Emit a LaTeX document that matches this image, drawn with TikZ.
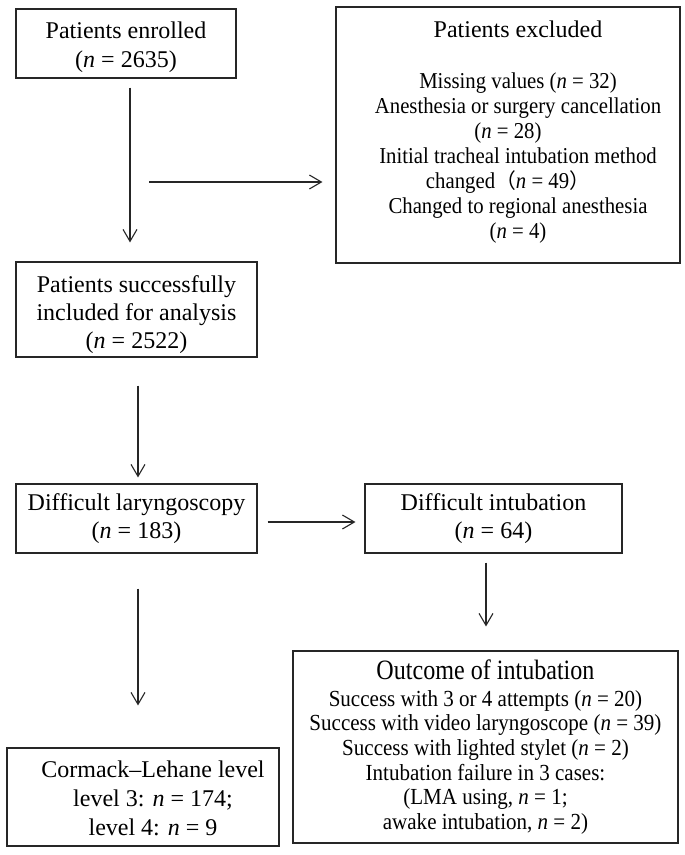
\documentclass[tikz,border=0pt]{standalone}
\usepackage{fontspec}
\setmainfont{Liberation Serif}
\newfontfamily\cjk{Noto Sans CJK SC}
\newfontfamily\tallA[FakeStretch=0.915]{Liberation Serif}
\newfontfamily\tallB[FakeStretch=0.86]{Liberation Serif}
\usetikzlibrary{arrows.meta}
\begin{document}
\begin{tikzpicture}[x=1pt,y=-1pt,
  box/.style={draw=black!85, line width=1.1pt, inner sep=0pt},
  txt/.style={inner sep=0pt, align=center},
  arr/.style={draw=black!85, line width=1.1pt, -{Straight Barb[length=12pt,width=14pt,line width=1.1pt]}},
]
\path[fill=white] (0,0) rectangle (685,855);
\useasboundingbox (0,0) rectangle (685,855);

% boxes
\node[box,minimum width=220pt,minimum height=69pt] (pe) at (126,43.5) {};
\node[box,minimum width=344pt,minimum height=256pt] (ex) at (508,135) {};
\node[box,minimum width=241pt,minimum height=95pt] (ps) at (136.5,309.5) {};
\node[box,minimum width=241pt,minimum height=69pt] (dl) at (136.5,518.5) {};
\node[box,minimum width=257pt,minimum height=69pt] (di) at (493.5,518.5) {};
\node[box,minimum width=272pt,minimum height=98pt] (cl) at (143,797) {};
\node[box,minimum width=385pt,minimum height=192pt] (oc) at (485.5,747) {};

% texts
\node[txt,font=\fontsize{24}{29}\selectfont] (pe-t) at (126,47.5)
  {Patients enrolled\\(\textit{n} = 2635)};

\node[txt,font=\tallA\fontsize{22.7}{25}\selectfont] (ex-t) at (508,132)
  {{\rmfamily\fontsize{24}{28}\selectfont\hspace*{20pt}Patients excluded}\\[26pt]
   \hspace*{20pt}Missing values (\textit{n} = 32)\\
   \hspace*{20pt}Anesthesia or surgery cancellation\\
   (\textit{n} = 28)\\
   \hspace*{20pt}Initial tracheal intubation method\\
   changed{\cjk\fontsize{20.8}{25}\selectfont （}\textit{n} = 49{\cjk\fontsize{20.8}{25}\selectfont ）}\\
   \hspace*{20pt}Changed to regional anesthesia\\
   \hspace*{20pt}(\textit{n} = 4)};

\node[txt,font=\fontsize{24}{28}\selectfont] (ps-t) at (136.5,314.5)
  {Patients successfully\\included for analysis\\(\textit{n} = 2522)};

\node[txt,font=\fontsize{24}{28.5}\selectfont] (dl-t) at (136.5,518.5)
  {Difficult laryngoscopy\\(\textit{n} = 183)};

\node[txt,font=\fontsize{24}{28.5}\selectfont] (di-t) at (493.5,518.5)
  {Difficult intubation\\(\textit{n} = 64)};

\node[txt,font=\fontsize{24}{29}\selectfont] (cl-t) at (153,798)
  {Cormack–Lehane level\\level 3: \textit{n} = 174;\\level 4: \textit{n} = 9};

\node[txt,font=\tallA\fontsize{23}{24.6}\selectfont] (oc-t) at (485.5,747)
  {{\tallB\fontsize{28}{28}\selectfont Outcome of intubation}\\[2pt]
   Success with 3 or 4 attempts (\textit{n} = 20)\\
   Success with video laryngoscope (\textit{n} = 39)\\
   Success with lighted stylet (\textit{n} = 2)\\
   Intubation failure in 3 cases:\\
   (LMA using, \textit{n} = 1;\\
   awake intubation, \textit{n} = 2)};

% connectors
\coordinate (split) at (130,182);
\draw[arr] ([xshift=4pt,yshift=-9pt]pe.south) -- ([xshift=-6.5pt,yshift=19pt]ps.north);
\draw[arr] ([xshift=19pt]split) -- ([xshift=-13pt]split -| ex.west);
\draw[arr] ([xshift=1.5pt,yshift=-28pt]ps.south) -- ([xshift=1.5pt,yshift=6pt]dl.north);
\draw[arr] ([xshift=10pt,yshift=-3.5pt]dl.east) -- ([xshift=-9pt,yshift=-3.5pt]di.west);
\draw[arr] ([xshift=-7.5pt,yshift=-9pt]di.south) -- ([xshift=0.5pt,yshift=24pt]oc.north);
\draw[arr] ([xshift=1.5pt,yshift=-35pt]dl.south) -- ([xshift=-5pt,yshift=42pt]cl.north);
\end{tikzpicture}
\end{document}
